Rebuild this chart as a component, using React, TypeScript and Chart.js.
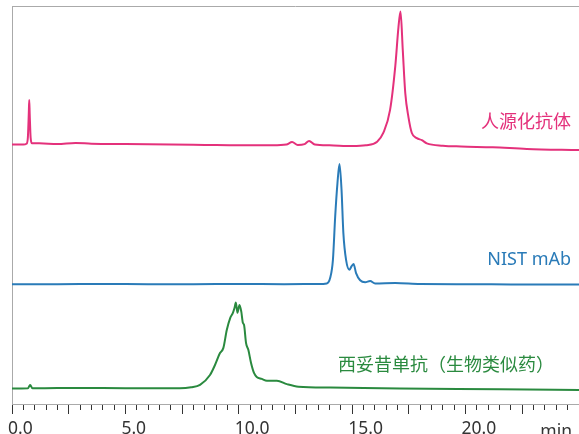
import React, { useEffect, useRef } from "react";
import { Chart, registerables } from "chart.js";

Chart.register(...registerables);

// ---- colours ----
const PINK = "#e4317b";
const BLUE = "#2a7bb8";
const GREEN = "#2a8a3f";

// ---- series data (retention time in min, detector signal incl. stacking offset) ----
const pinkTime = [0, 0.5, 0.64, 0.7, 0.74, 0.76, 0.78, 0.82, 0.88, 1.2, 2.0, 2.8, 3.5, 5.0, 7.0, 8.5, 10.0, 11.5, 12.1, 12.35, 12.6, 12.9, 13.1, 13.35, 14.0, 15.0, 15.6, 16.1, 16.37, 16.67, 16.9, 17.04, 17.13, 17.23, 17.34, 17.48, 17.63, 17.85, 18.07, 18.29, 19.0, 19.8, 21.2, 22.7, 25.0];
const pinkSignal = [65.2, 65.2, 65.4, 67.0, 73.0, 76.4, 73.0, 67.0, 65.5, 65.5, 65.3, 65.6, 65.4, 65.3, 65.2, 65.1, 65.0, 65.0, 65.2, 65.8, 65.1, 65.3, 66.1, 65.2, 65.0, 64.8, 65.0, 65.9, 68.1, 73.9, 84.9, 94.7, 98.6, 88.9, 78.1, 72.1, 68.1, 66.8, 66.3, 65.5, 64.9, 64.7, 64.5, 64.1, 63.8];

const blueTime = [0, 2, 4, 6, 8, 10, 12, 13.5, 13.88, 14.03, 14.15, 14.25, 14.35, 14.44, 14.53, 14.61, 14.73, 14.88, 14.95, 15.06, 15.17, 15.35, 15.57, 15.79, 16.01, 16.9, 18.0, 20, 22, 25];
const blueSignal = [30.1, 30.1, 30.15, 30.1, 30.1, 30.15, 30.1, 30.15, 30.3, 31.7, 36.2, 47.1, 55.5, 60.3, 53.8, 43.0, 36.2, 33.7, 34.4, 35.2, 32.9, 31.1, 30.6, 30.9, 30.3, 30.4, 30.15, 30.1, 30.05, 30.0];

const greenTime = [0, 0.7, 0.8, 0.9, 2, 4, 6, 7.4, 7.9, 8.29, 8.73, 8.95, 9.17, 9.32, 9.47, 9.62, 9.74, 9.81, 9.87, 9.94, 10.03, 10.11, 10.18, 10.23, 10.32, 10.42, 10.54, 10.67, 10.79, 11.01, 11.24, 11.68, 12.12, 12.63, 14.03, 17.1, 21.5, 25];
const greenSignal = [3.9, 3.95, 4.8, 3.95, 4.0, 4.0, 3.95, 3.95, 4.2, 4.8, 7.3, 9.8, 12.8, 14.1, 18.6, 21.6, 22.9, 24.1, 25.5, 22.9, 24.9, 23.2, 20.4, 19.9, 15.3, 13.6, 10.3, 7.8, 6.8, 6.3, 5.85, 5.85, 5.0, 4.35, 4.15, 3.9, 3.7, 3.5];

// ---- labels ----
const seriesNames = ["人源化抗体", "NIST mAb", "西妥昔单抗（生物类似药）"];
const seriesColors = [PINK, BLUE, GREEN];
const labelLevels = [70.6, 36.2, 9.5];
const labelTimes = [24.65, 24.65, 23.9];
const labeledTicks = [0, 5, 10, 15, 20];
const axisUnit = "min";

const X_MIN = 0;
const X_MAX = 25;

const toPoints = (t: number[], v: number[]) => t.map((x, i) => ({ x, y: v[i] }));

const decorPlugin = {
  id: "decor",
  afterDraw(chart: any) {
    const { ctx, chartArea, scales } = chart;
    const xs = scales.x;
    const ys = scales.y;
    ctx.save();
    // top frame line
    ctx.strokeStyle = "#aaaaaa";
    ctx.lineWidth = 1;
    ctx.beginPath();
    ctx.moveTo(chartArea.left, chartArea.top + 0.5);
    ctx.lineTo(chartArea.right, chartArea.top + 0.5);
    ctx.stroke();
    // series labels
    ctx.textAlign = "right";
    ctx.textBaseline = "middle";
    seriesNames.forEach((name, i) => {
      ctx.fillStyle = seriesColors[i];
      ctx.font = '18px "Noto Sans", "Noto Sans CJK SC", sans-serif';
      ctx.fillText(name, xs.getPixelForValue(labelTimes[i]), ys.getPixelForValue(labelLevels[i]));
    });
    // unit label
    ctx.fillStyle = "#333333";
    ctx.font = '17.5px "Noto Sans", sans-serif';
    ctx.textAlign = "right";
    ctx.textBaseline = "alphabetic";
    ctx.fillText(axisUnit, chartArea.right - 7, xs.top + 32.5);
    ctx.restore();
  },
};

export default function App() {
  const ref = useRef<HTMLCanvasElement | null>(null);

  useEffect(() => {
    if (!ref.current) return;
    const mk = (label: string, t: number[], v: number[], color: string) => ({
      label,
      data: toPoints(t, v),
      borderColor: color,
      backgroundColor: color,
      borderWidth: 2,
      pointRadius: 0,
      fill: false,
      cubicInterpolationMode: "monotone" as const,
    });
    const chart = new Chart(ref.current, {
      type: "line",
      data: {
        datasets: [
          mk(seriesNames[0], pinkTime, pinkSignal, PINK),
          mk(seriesNames[1], blueTime, blueSignal, BLUE),
          mk(seriesNames[2], greenTime, greenSignal, GREEN),
        ],
      },
      options: {
        animation: false,
        responsive: false,
        maintainAspectRatio: false,
        layout: { padding: { top: 6, left: 0, right: 0, bottom: 0 } },
        plugins: { legend: { display: false }, tooltip: { enabled: false } },
        scales: {
          x: {
            type: "linear",
            min: X_MIN,
            max: X_MAX,
            border: { display: true, color: "#aaaaaa", width: 1 },
            grid: {
              display: true,
              drawOnChartArea: false,
              drawTicks: true,
              tickLength: 10,
              tickColor: "#333333",
              tickWidth: 1,
              tickBorderDash: (c: any) => {
                const v = c.tick ? c.tick.value : 0;
                return Math.abs(v / 2.5 - Math.round(v / 2.5)) < 1e-6 ? [] : [5, 30];
              },
            },
            ticks: {
              stepSize: 0.5,
              autoSkip: false,
              maxRotation: 0,
              minRotation: 0,
              align: "start",
              labelOffset: -4,
              padding: 5,
              color: "#333333",
              font: { family: '"Noto Sans", sans-serif', size: 17.5 },
              callback: (val: any) => {
                const v = Number(val);
                return labeledTicks.some((l) => Math.abs(l - v) < 1e-6) ? v.toFixed(1) : "";
              },
            },
            afterFit: (s: any) => {
              s.height = 30;
              s.paddingLeft = 0;
              s.paddingRight = 0;
            },
          },
          y: {
            type: "linear",
            min: 0,
            max: 100,
            border: { display: true, color: "#aaaaaa", width: 1 },
            grid: { display: false },
            ticks: { display: false },
            afterFit: (s: any) => {
              s.width = 12;
            },
          },
        },
      },
      plugins: [decorPlugin],
    });
    return () => chart.destroy();
  }, []);

  return (
    <div style={{ position: "fixed", left: 0, top: 0, width: 579, height: 434, background: "#fff" }}>
      <canvas ref={ref} width={579} height={434} style={{ display: "block" }} />
    </div>
  );
}
